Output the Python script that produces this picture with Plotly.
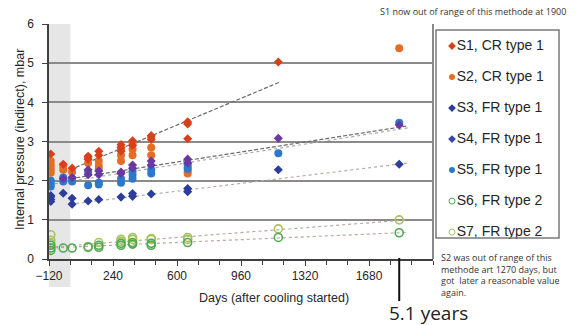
import plotly.graph_objects as go

W, H = 579, 325

# ---------------- data (days after cooling started, pressure mbar) ----------------
s1_x = [-110, -40, 10, 100, 100, 160, 160, 285, 285, 285, 350, 350, 455, 455, 660, 660, 660, 1170]
s1_y = [2.68, 2.42, 2.32, 2.62, 2.55, 2.75, 2.65, 2.92, 2.85, 2.75, 3.02, 2.9, 3.15, 3.05, 3.5, 3.45, 3.07, 5.03]

s2_x = [-110, -110, -110, -110, -40, -40, 10, 100, 100, 160, 160, 160, 285, 285, 285, 350, 350, 350,
        455, 455, 455, 660, 660, 1850]
s2_y = [2.5, 2.4, 2.3, 2.2, 2.38, 2.28, 2.22, 2.6, 2.45, 2.5, 2.38, 2.3, 2.8, 2.65, 2.5, 2.95, 2.8, 2.65,
        3.1, 2.85, 2.65, 2.25, 2.18, 5.38]

s3_x = [-110, -110, -110, -40, 10, 10, 100, 160, 285, 350, 350, 455, 660, 660, 1170, 1850]
s3_y = [1.62, 1.52, 1.47, 1.68, 1.55, 1.4, 1.48, 1.52, 1.58, 1.67, 1.6, 1.66, 1.8, 1.72, 2.28, 2.42]

s4_x = [-110, -40, 10, 100, 100, 160, 160, 285, 285, 350, 350, 455, 455, 660, 660, 1170, 1850]
s4_y = [1.58, 2.05, 2.08, 2.28, 2.15, 2.25, 2.15, 2.22, 2.18, 2.4, 2.32, 2.5, 2.4, 2.55, 2.45, 3.08, 3.42]

s5_x = [-110, -110, -110, -40, -40, 10, 10, 100, 100, 160, 160, 285, 285, 350, 350, 350, 455, 455,
        660, 660, 660, 1170, 1850]
s5_y = [2.0, 1.92, 1.85, 2.08, 1.98, 2.05, 1.98, 1.88, 2.22, 1.9, 1.95, 2.05, 1.95, 2.25, 2.15, 2.05,
        2.28, 2.18, 2.42, 2.35, 2.3, 2.7, 3.48]

s6_x = [-110, -110, -110, -40, 10, 100, 160, 160, 285, 285, 350, 350, 455, 455, 660, 1170, 1850]
s6_y = [0.35, 0.28, 0.22, 0.28, 0.28, 0.3, 0.3, 0.35, 0.35, 0.4, 0.38, 0.42, 0.35, 0.4, 0.42, 0.55, 0.67]

s7_x = [-110, -110, -110, 100, 160, 285, 285, 350, 350, 455, 455, 660, 660, 1170, 1850]
s7_y = [0.62, 0.48, 0.4, 0.32, 0.42, 0.45, 0.5, 0.5, 0.55, 0.5, 0.52, 0.55, 0.5, 0.77, 1.0]

# trend lines (end points)
t1_x, t1_y = [0, 1180], [2.28, 4.52]
t3_x, t3_y = [0, 1900], [1.4, 2.45]
t4_x, t4_y = [0, 1900], [2.05, 3.4]
t5_x, t5_y = [-120, 1900], [1.9, 3.35]
t6_x, t6_y = [-120, 1900], [0.28, 0.68]
t7_x, t7_y = [-120, 1900], [0.3, 1.0]

series_names = ["S1, CR type 1", "S2, CR type 1", "S3, FR type 1", "S4, FR type 1",
                "S5, FR type 1", "S6, FR type 2", "S7, FR type 2"]
x_ticks = [-120, 240, 600, 960, 1320, 1680]
y_ticks = [0, 1, 2, 3, 4, 5, 6]
years_day = 1850

# ---------------- styles ----------------
c1, c2, c3, c4, c5, c6, c7 = "#D8401C", "#E56D25", "#2C3D9C", "#6A38A2", "#2E78C9", "#4DAA50", "#A8C25C"
styles = [
    dict(symbol="diamond", color=c1, size=7),
    dict(symbol="circle", color=c2, size=8),
    dict(symbol="diamond", color=c3, size=7),
    dict(symbol="diamond", color=c4, size=7),
    dict(symbol="circle", color=c5, size=8),
    dict(symbol="circle-open", color=c6, size=8, line=dict(width=1.6, color=c6)),
    dict(symbol="circle-open", color=c7, size=8, line=dict(width=1.6, color=c7)),
]
legend_styles = [
    dict(symbol="diamond", color=c1, size=6),
    dict(symbol="circle", color=c2, size=6),
    dict(symbol="diamond", color=c3, size=6),
    dict(symbol="diamond", color="#3848A6", size=6),
    dict(symbol="circle", color=c5, size=6),
    dict(symbol="circle-open", color=c6, size=6, line=dict(width=1, color=c6)),
    dict(symbol="circle-open", color=c7, size=6, line=dict(width=1, color=c7)),
]

fig = go.Figure()

trends = [
    (t7_x, t7_y, "#B8A9A4", "dot"),
    (t6_x, t6_y, "#B8A9A4", "dot"),
    (t3_x, t3_y, "#B8A9A4", "dot"),
    (t5_x, t5_y, "#B0A8A8", "dot"),
    (t4_x, t4_y, "#6A6A6A", "4px,2px"),
    (t1_x, t1_y, "#6A6A6A", "4px,2px"),
]
for tx, ty, col, dash in trends:
    fig.add_trace(go.Scatter(x=tx, y=ty, mode="lines", line=dict(color=col, width=1.2, dash=dash),
                             showlegend=False, hoverinfo="skip"))

data = [(s1_x, s1_y), (s2_x, s2_y), (s3_x, s3_y), (s4_x, s4_y), (s5_x, s5_y), (s6_x, s6_y), (s7_x, s7_y)]
order = [6, 5, 1, 0, 4, 3, 2]
for i in order:
    xs, ys = data[i]
    fig.add_trace(go.Scatter(x=xs, y=ys, mode="markers", name=series_names[i],
                             marker=styles[i], showlegend=False))

# manual legend on its own axes
for i, nm in enumerate(series_names):
    fig.add_trace(go.Scatter(x=[0], y=[nm], mode="markers+text", text=[nm],
                             textposition="middle right",
                             textfont=dict(family="Liberation Sans, Arial", size=14, color="#262626"),
                             marker=legend_styles[i], xaxis="x2", yaxis="y2",
                             showlegend=False, hoverinfo="skip", cliponaxis=False))

px = lambda v: v / W
py = lambda v: 1 - v / H

font_main = dict(family="Liberation Sans, Arial", size=12, color="#262626")

fig.update_layout(
    template="none",
    width=W, height=H,
    margin=dict(l=0, r=0, t=0, b=0, autoexpand=False),
    paper_bgcolor="white", plot_bgcolor="white",
    font=font_main,
    xaxis=dict(domain=[px(49), px(433)], range=[-120, 2040], tickmode="array", tickvals=x_ticks,
               ticks="outside", ticklen=5, tickwidth=1.2, tickcolor="#404040", automargin=False,
               minor=dict(tickmode="linear", tick0=-120, dtick=120, ticks="outside", ticklen=4,
                          tickcolor="#404040", showgrid=False),
               showline=True, linecolor="#404040", linewidth=1.5, showgrid=False, zeroline=False,
               tickfont=font_main, fixedrange=True),
    yaxis=dict(domain=[py(259), py(24)], range=[0, 6], tickmode="array", tickvals=y_ticks,
               ticks="outside", ticklen=5, tickcolor="#404040", ticklabelstandoff=6, automargin=False,
               showline=True, linecolor="#404040", linewidth=1.5,
               showgrid=True, gridcolor="#8A8A8A", gridwidth=2, zeroline=False,
               tickfont=font_main, fixedrange=True),
    xaxis2=dict(domain=[px(436), px(559)], range=[-16, 107], visible=False, fixedrange=True,
                automargin=False, anchor="y2"),
    yaxis2=dict(domain=[py(238), py(30)], type="category", categoryorder="array",
                categoryarray=series_names, range=[6.19, -0.516], visible=False, fixedrange=True,
                anchor="x2", automargin=False),
)

# grey band (before cooling) and plot frame
fig.add_shape(type="rect", xref="x", yref="paper", x0=-120, x1=0, y0=py(287), y1=py(24),
              fillcolor="#E6E6E6", line=dict(width=0), layer="below")
fig.add_shape(type="line", xref="x domain", yref="y domain", x0=1, x1=1, y0=0, y1=1,
              line=dict(color="#8A8A8A", width=2))
# legend box
fig.add_shape(type="rect", xref="x2 domain", yref="y2 domain", x0=0, x1=1, y0=0, y1=1,
              line=dict(color="#7A7A7A", width=1.5))
# 5.1 years marker line
fig.add_shape(type="line", xref="x", yref="paper", x0=years_day, x1=years_day, y0=py(258), y1=py(301),
              line=dict(color="#111111", width=2))

fig.add_annotation(text="Internal pressure (indirect), mbar", xref="paper", yref="paper",
                   x=px(20), y=py(140), textangle=-90, showarrow=False,
                   xanchor="center", yanchor="middle",
                   font=dict(family="Liberation Sans, Arial", size=12.5, color="#262626"))
fig.add_annotation(text="Days (after cooling started)", xref="paper", yref="paper",
                   x=px(274), y=py(298), showarrow=False, xanchor="center", yanchor="middle",
                   font=dict(family="Liberation Sans, Arial", size=12.5, color="#262626"))
fig.add_annotation(text="S1 now out of range of this methode at 1900", xref="paper", yref="paper",
                   x=px(568), y=py(11), xanchor="right", yanchor="middle", showarrow=False,
                   font=dict(family="Open Sans", size=9, color="#333333"))
fig.add_annotation(text="S2 was out of range of this<br>methode art 1270 days, but<br>got  later a reasonable value<br>again.",
                   xref="paper", yref="paper", x=px(439), y=py(249), xanchor="left", yanchor="top",
                   align="left", showarrow=False,
                   font=dict(family="Open Sans", size=9, color="#333333"))
fig.add_annotation(text="5.1 years", xref="paper", yref="paper", x=px(428), y=py(312.5),
                   xanchor="center", yanchor="middle",
                   showarrow=False, font=dict(family="Open Sans", size=19, color="#222222"))

fig.write_html("out.html", post_script="document.body.style.margin='0';",
               config={"displayModeBar": False})
